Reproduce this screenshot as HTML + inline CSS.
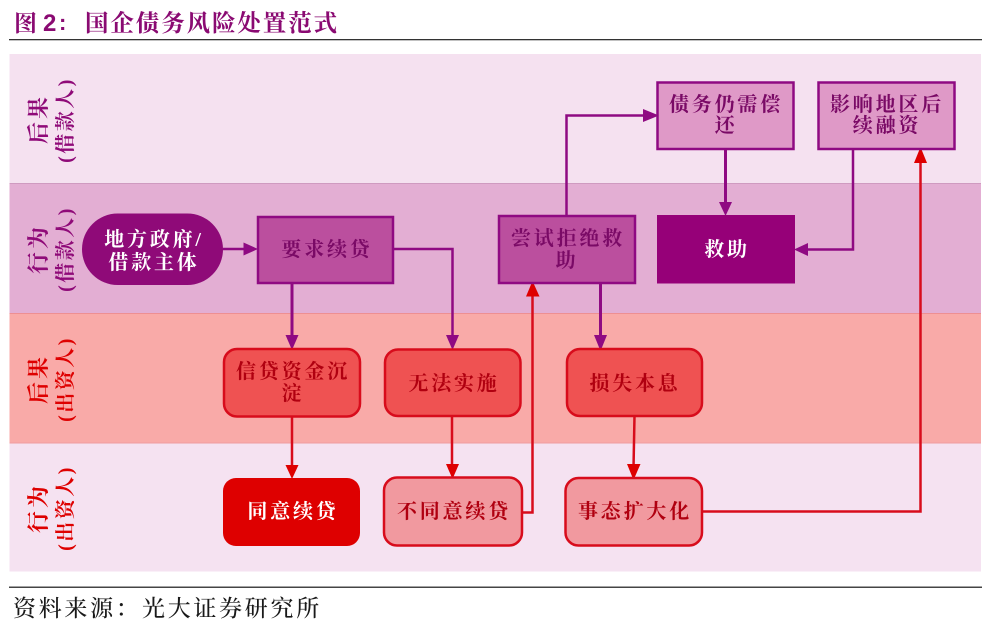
<!DOCTYPE html>
<html><head><meta charset="utf-8"><style>
html,body{margin:0;padding:0;background:#fff;width:999px;height:625px;overflow:hidden}
svg{display:block}
text{font-family:"Liberation Serif","Noto Serif CJK SC",serif;text-anchor:middle}
.n{font-size:20px;font-weight:700;letter-spacing:2.8px}
</style></head><body>
<svg width="999" height="625" viewBox="0 0 999 625" xmlns="http://www.w3.org/2000/svg">
<!-- header -->
<text x="14" y="31" style="text-anchor:start;font-size:23px;fill:#8a0a72;font-weight:700">图</text>
<text x="43" y="31" style="text-anchor:start;font-family:'Liberation Sans',sans-serif;font-size:24px;font-weight:700;fill:#8a0a72">2</text>
<text x="59" y="30" style="text-anchor:start;font-family:'Liberation Sans',sans-serif;font-size:22px;font-weight:700;fill:#8a0a72">:</text>
<text x="85" y="31" style="text-anchor:start;font-size:23.500px;letter-spacing:1.9px;fill:#8a0a72;font-weight:700">国企债务风险处置范式</text>
<rect x="9" y="39" width="973" height="1.300" fill="#333"/>
<!-- bands -->
<rect x="9.500" y="54" width="971.500" height="130" fill="#f5e1f0"/>
<rect x="9.500" y="183.500" width="971.500" height="130" fill="#e3aed3"/>
<rect x="9.500" y="313" width="971.500" height="130" fill="#f9aaa8"/>
<rect x="9.500" y="443" width="971.500" height="128.500" fill="#f5e2f1"/>
<rect x="9.500" y="183" width="971.500" height="1" fill="#cf9ac0"/>
<rect x="9.500" y="313" width="971.500" height="1" fill="#ee8f92"/>
<rect x="9.500" y="442.500" width="971.500" height="1" fill="#ee9ca0"/>
<!-- side labels -->
<g font-weight="700" fill="#8f0a78">
<text transform="translate(46,119) rotate(-90)" font-size="22" letter-spacing="3">后果</text>
<text transform="translate(72,120) rotate(-90)" font-size="20" letter-spacing="2.500">(借款人)</text>
<text transform="translate(46,249) rotate(-90)" font-size="22" letter-spacing="3">行为</text>
<text transform="translate(72,249) rotate(-90)" font-size="20" letter-spacing="2.500">(借款人)</text>
</g>
<g font-weight="700" fill="#de0000">
<text transform="translate(46,379) rotate(-90)" font-size="22" letter-spacing="3">后果</text>
<text transform="translate(72,379) rotate(-90)" font-size="20" letter-spacing="2.500">(出资人)</text>
<text transform="translate(46,508) rotate(-90)" font-size="22" letter-spacing="3">行为</text>
<text transform="translate(72,508) rotate(-90)" font-size="20" letter-spacing="2.500">(出资人)</text>
</g>
<!-- purple connectors -->
<g fill="none" stroke="#8f0a82" stroke-width="2.500">
<path d="M223 249H246"/>
<path d="M393 249H452.500V338"/>
<path d="M292 283V338" stroke-width="3"/>
<path d="M600.500 283V338" stroke-width="3"/>
<path d="M566.500 215V115.500H645"/>
<path d="M725.500 149V205" stroke-width="3"/>
<path d="M853 149V249.500H805"/>
</g>
<g fill="#8f0a82">
<path d="M243.500 242.500L258 249L243.500 255.500Z"/>
<path d="M285.500 335H298.500L292 350Z"/>
<path d="M446 335H459L452.500 350Z"/>
<path d="M594 335H607L600.500 351Z"/>
<path d="M643 109L659 115.500L643 122Z"/>
<path d="M719 202H732L725.500 216Z"/>
<path d="M808 243V256L794 249.500Z"/>
</g>
<!-- red connectors -->
<g fill="none" stroke="#d80c1c" stroke-width="2.500">
<path d="M292 417V468"/>
<path d="M452 416V468"/>
<path d="M634.500 416L633.500 468"/>
<path d="M522 512.500H532.500V294"/>
<path d="M702 511.500H920.500V160"/>
</g>
<g fill="#de0000">
<path d="M285.500 465H298.500L292 479Z"/>
<path d="M446 464H459L452.500 479Z"/>
<path d="M627 464H640.500L633.500 480Z"/>
<path d="M526 296.500H539.500L532.500 281Z"/>
<path d="M914 163H927L920.500 147Z"/>
</g>
<!-- purple nodes -->
<rect x="82" y="213.500" width="141" height="71.500" rx="35.700" fill="#8f0a78"/>
<rect x="258" y="217" width="135" height="66" fill="#bb4f9e" stroke="#8f0a82" stroke-width="2.500"/>
<rect x="499" y="216" width="136" height="67" fill="#bb4f9e" stroke="#8f0a82" stroke-width="2.500"/>
<rect x="657.500" y="82.500" width="136" height="66.500" fill="#df99c7" stroke="#8f0a82" stroke-width="2.500"/>
<rect x="818.500" y="82.500" width="136" height="66.500" fill="#df99c7" stroke="#8f0a82" stroke-width="2.500"/>
<rect x="657" y="215" width="138" height="68.500" fill="#960078"/>
<!-- red nodes -->
<rect x="224" y="349" width="136" height="67.500" rx="13" fill="#ef5252" stroke="#d80c1c" stroke-width="2.500"/>
<rect x="385" y="349.500" width="135.500" height="66.500" rx="13" fill="#ef5252" stroke="#d80c1c" stroke-width="2.500"/>
<rect x="567" y="349" width="135" height="67" rx="13" fill="#ef5252" stroke="#d80c1c" stroke-width="2.500"/>
<rect x="223" y="478" width="137" height="68" rx="13" fill="#de0000"/>
<rect x="384" y="477.500" width="138" height="68" rx="13" fill="#f1999f" stroke="#d80c1c" stroke-width="2.500"/>
<rect x="565.500" y="478" width="136.500" height="67.500" rx="13" fill="#f1999f" stroke="#d80c1c" stroke-width="2.500"/>
<!-- node text -->
<g fill="#fff">
<text class="n" x="154" y="246">地方政府/</text>
<text class="n" x="154" y="269">借款主体</text>
<text class="n" x="727" y="256">救助</text>
<text class="n" x="293" y="518">同意续贷</text>
</g>
<g fill="#7a0a66">
<text class="n" x="327" y="256">要求续贷</text>
<text class="n" x="568" y="245">尝试拒绝救</text>
<text class="n" x="567" y="267">助</text>
<text class="n" x="726" y="111">债务仍需偿</text>
<text class="n" x="726" y="132">还</text>
<text class="n" x="887" y="111">影响地区后</text>
<text class="n" x="887" y="132">续融资</text>
</g>
<g fill="#b00010">
<text class="n" x="293" y="378">信贷资金沉</text>
<text class="n" x="293" y="400">淀</text>
<text class="n" x="454" y="390">无法实施</text>
<text class="n" x="635" y="390">损失本息</text>
<text class="n" x="454" y="518">不同意续贷</text>
<text class="n" x="635" y="518">事态扩大化</text>
</g>
<!-- footer -->
<rect x="9" y="586.500" width="973" height="1.500" fill="#444"/>
<text x="13" y="616" style="text-anchor:start;font-size:23px;letter-spacing:2.7px;fill:#1a1a1a;font-weight:500">资料来源：</text>
<text x="142" y="616" style="text-anchor:start;font-size:23px;letter-spacing:2.7px;fill:#1a1a1a;font-weight:500">光大证券研究所</text>
</svg>
</body></html>
